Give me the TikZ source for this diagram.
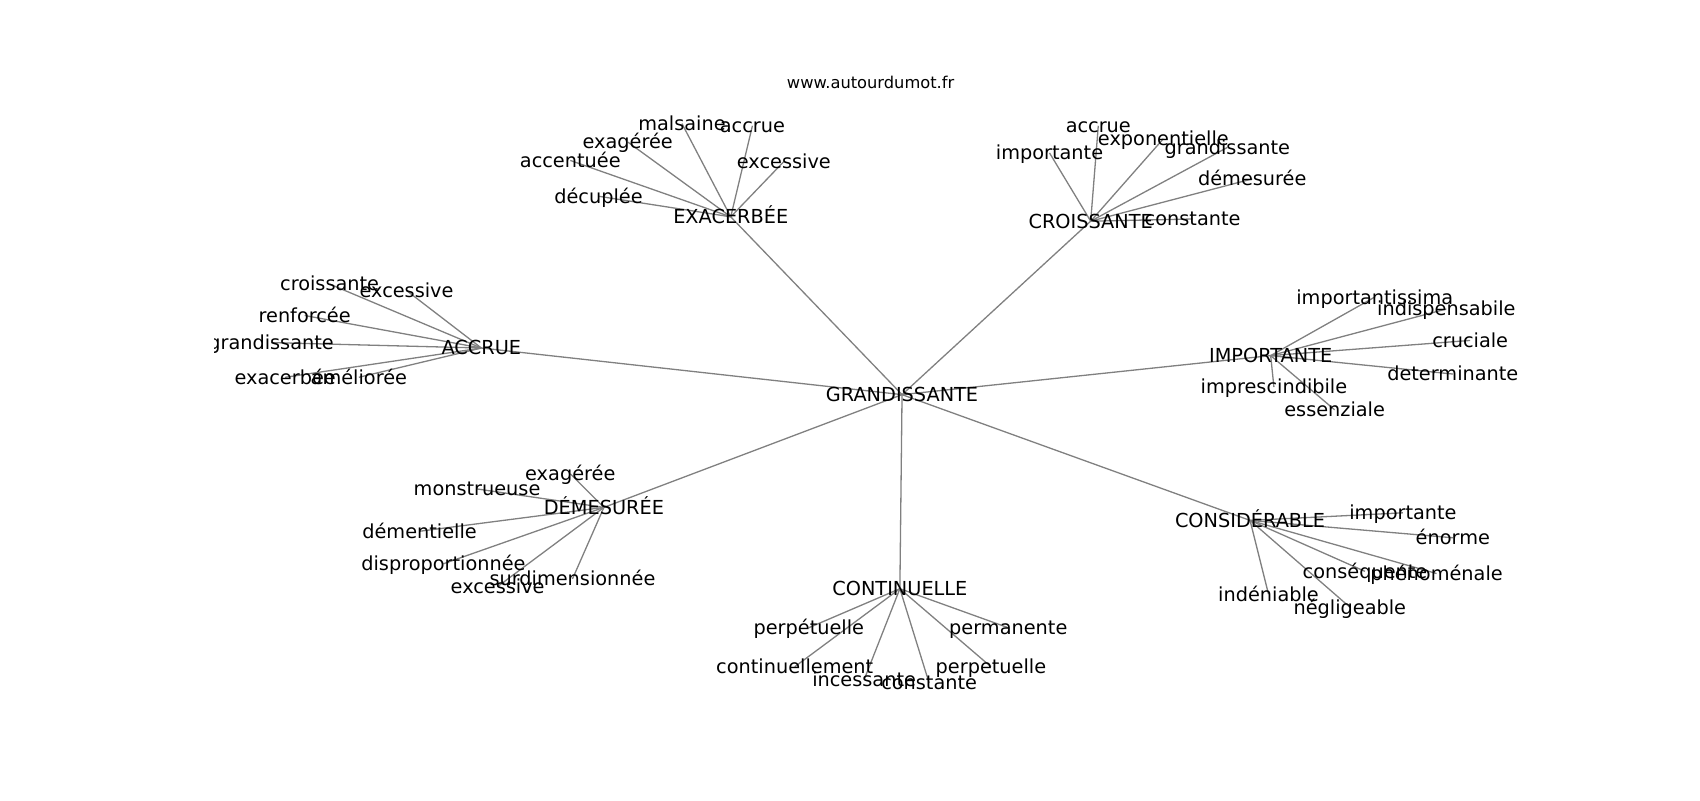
\documentclass[tikz,border=0pt]{standalone}
\usepackage{fontspec}
\setmainfont{DejaVu Sans}
\pgfdeclarelayer{bg}
\pgfsetlayers{bg,main}
\tikzset{
  lbl/.style={font=\fontsize{17.8}{21}\selectfont, inner sep=0pt, text height=13.4pt, text depth=0.6pt, text=black},
  ttl/.style={font=\fontsize{15}{18}\selectfont, inner sep=0pt, text=black},
  edge/.style={draw=gray, line width=1.2pt}
}
\begin{document}
\begin{tikzpicture}[x=1pt,y=-1pt]
\useasboundingbox (0,0) rectangle (1568,738);
\node[ttl] (title) at (803,76) {www.autourdumot.fr};
\begin{scope}
\clip (198,88.6) rectangle (1411,656.8);
% hubs
\node[lbl] (G) at (832,364) {GRANDISSANTE};
\node[lbl] (EXA) at (674,200) {EXACERBÉE};
\node[lbl] (CRO) at (1006,204) {CROISSANTE};
\node[lbl] (ACC) at (444,321) {ACCRUE};
\node[lbl] (IMP) at (1172,328) {IMPORTANTE};
\node[lbl] (DEM) at (557,468) {DÉMESURÉE};
\node[lbl] (CONT) at (830,543) {CONTINUELLE};
\node[lbl] (CONS) at (1153,480) {CONSIDÉRABLE};
% EXACERBEE
\node[lbl] (a1) at (629,114) {malsaine};
\node[lbl] (a2) at (694,116) {accrue};
\node[lbl] (a3) at (579,131) {exagérée};
\node[lbl] (a4) at (526,148) {accentuée};
\node[lbl] (a5) at (723,149) {excessive};
\node[lbl] (a6) at (552,181) {décuplée};
% CROISSANTE
\node[lbl] (b1) at (1013,116) {accrue};
\node[lbl] (b2) at (1073,128) {exponentielle};
\node[lbl] (b3) at (968,141) {importante};
\node[lbl] (b4) at (1132,136) {grandissante};
\node[lbl] (b5) at (1155,165) {démesurée};
\node[lbl] (b6) at (1100,202) {constante};
% ACCRUE
\node[lbl] (c1) at (304,262) {croissante};
\node[lbl] (c2) at (375,268) {excessive};
\node[lbl] (c3) at (281,291) {renforcée};
\node[lbl] (c4) at (250,316) {grandissante};
\node[lbl] (c5) at (263,348) {exacerbée};
\node[lbl] (c6) at (331,348) {améliorée};
% IMPORTANTE
\node[lbl] (d1) at (1268,274) {importantissima};
\node[lbl] (d2) at (1334,285) {indispensabile};
\node[lbl] (d3) at (1356,314) {cruciale};
\node[lbl] (d4) at (1340,345) {determinante};
\node[lbl] (d5) at (1175,357) {imprescindibile};
\node[lbl] (d6) at (1231,378) {essenziale};
% DEMESUREE
\node[lbl] (e1) at (526,437) {exagérée};
\node[lbl] (e2) at (440,451) {monstrueuse};
\node[lbl] (e3) at (387,490) {démentielle};
\node[lbl] (e4) at (409,520) {disproportionnée};
\node[lbl] (e5) at (459,541) {excessive};
\node[lbl] (e6) at (528,534) {surdimensionnée};
% CONTINUELLE
\node[lbl] (f1) at (746,579) {perpétuelle};
\node[lbl] (f2) at (930,579) {permanente};
\node[lbl] (f3) at (733,615) {continuellement};
\node[lbl] (f4) at (914,615) {perpetuelle};
\node[lbl] (f5) at (797,627) {incessante};
\node[lbl] (f6) at (857,630) {constante};
% CONSIDERABLE
\node[lbl] (g1) at (1294,473) {importante};
\node[lbl] (g2) at (1340,496) {énorme};
\node[lbl] (g3) at (1259,527) {conséquente};
\node[lbl] (g4) at (1325,529) {phénoménale};
\node[lbl] (g5) at (1170,548) {indéniable};
\node[lbl] (g6) at (1245,560) {négligeable};
\end{scope}
\begin{pgfonlayer}{bg}
\foreach \h in {EXA,CRO,ACC,IMP,DEM,CONT,CONS}
  \draw[edge] (G.center) -- (\h.center);
\foreach \n in {a1,a2,a3,a4,a5,a6} \draw[edge] (EXA.center) -- (\n.center);
\foreach \n in {b1,b2,b3,b4,b5,b6} \draw[edge] (CRO.center) -- (\n.center);
\foreach \n in {c1,c2,c3,c4,c5,c6} \draw[edge] (ACC.center) -- (\n.center);
\foreach \n in {d1,d2,d3,d4,d5,d6} \draw[edge] (IMP.center) -- (\n.center);
\foreach \n in {e1,e2,e3,e4,e5,e6} \draw[edge] (DEM.center) -- (\n.center);
\foreach \n in {f1,f2,f3,f4,f5,f6} \draw[edge] (CONT.center) -- (\n.center);
\foreach \n in {g1,g2,g3,g4,g5,g6} \draw[edge] (CONS.center) -- (\n.center);
\end{pgfonlayer}
\end{tikzpicture}
\end{document}
